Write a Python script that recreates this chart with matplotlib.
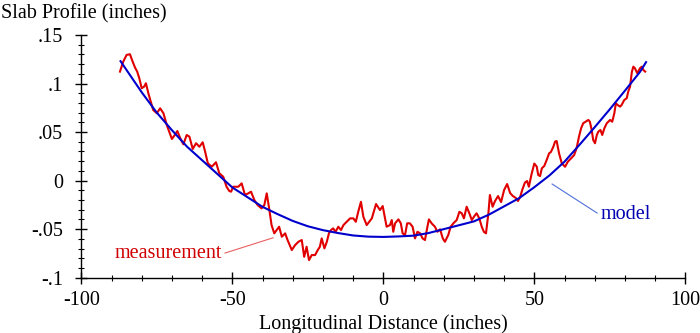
import numpy as np
import matplotlib
matplotlib.use("Agg")
from matplotlib import pyplot as plt
from matplotlib.ticker import MultipleLocator

# measured slab profile (inches)
meas_x = [-87.2, -86.1, -85.0, -83.9, -83.0, -82.2, -81.5, -80.8, -80.0, -79.2,
          -78.6, -77.8, -77.0, -76.2, -75.0, -73.9, -72.8, -71.7, -70.9, -70.0,
          -69.2, -68.2, -67.3, -66.2, -65.1, -64.2, -63.1, -62.0, -60.9, -59.8,
          -59.0, -58.1, -56.8, -55.4, -54.3, -53.0, -51.9, -51.0, -50.4, -49.7,
          -48.0, -46.9, -45.8, -44.7, -43.8, -42.7, -41.6, -40.3, -39.4, -38.6,
          -37.8, -37.0, -36.1, -35.3, -34.5, -33.6, -32.5, -31.7, -30.3, -29.2,
          -28.1, -27.0, -26.2, -25.4, -24.6, -23.7, -22.6, -21.7, -21.0, -20.4,
          -19.5, -18.7, -18.0, -17.3, -16.6, -15.8, -14.9, -14.0, -13.2, -12.1,
          -11.0, -9.9, -9.1, -8.3, -7.4, -6.6, -5.5, -3.8, -2.4, -1.1,
          -0.2, 1.1, 2.2, 2.8, 3.3, 3.9, 5.0, 5.8, 6.4, 7.2,
          7.9, 8.8, 9.7, 10.5, 11.3, 12.2, 13.0, 13.8, 14.4, 15.1,
          16.0, 17.1, 17.9, 18.8, 19.7, 20.4, 21.5, 22.3, 23.2, 24.3,
          25.2, 26.0, 26.7, 27.6, 28.5, 29.3, 30.4, 30.9, 31.8, 32.6,
          33.3, 34.0, 34.8, 35.3, 36.2, 37.0, 38.0, 39.0, 40.0, 41.0,
          42.0, 42.9, 43.9, 44.6, 45.3, 46.1, 46.9, 47.6, 48.2, 49.1,
          50.0, 50.8, 51.3, 51.9, 52.5, 53.3, 54.1, 54.9, 55.5, 56.3,
          56.9, 57.4, 58.2, 59.1, 60.2, 61.1, 62.2, 63.2, 64.0, 64.8,
          65.5, 66.2, 67.0, 67.9, 68.4, 69.0, 69.5, 70.1, 70.7, 71.2,
          71.9, 72.5, 73.2, 74.0, 74.5, 75.1, 75.8, 76.5, 77.0, 77.6,
          78.4, 78.9, 79.8, 80.6, 81.1, 81.7, 82.3, 82.8, 83.3, 84.1,
          85.0, 85.6, 86.1, 86.7]
meas_y = [0.1123, 0.1226, 0.1295, 0.1302, 0.1226, 0.1164, 0.1123, 0.1055, 0.0952, 0.0968,
          0.1003, 0.0900, 0.0813, 0.0728, 0.0694, 0.0745, 0.0694, 0.0573, 0.0504, 0.0429,
          0.0463, 0.0511, 0.0442, 0.0374, 0.0470, 0.0453, 0.0326, 0.0385, 0.0349, 0.0395,
          0.0298, 0.0178, 0.0143, 0.0189, 0.0075, 0.0040, -0.0063, -0.0107, -0.0114, -0.0063,
          -0.0063, -0.0028, -0.0148, -0.0131, -0.0114, -0.0200, -0.0252, -0.0286, -0.0252, -0.0131,
          -0.0286, -0.0458, -0.0543, -0.0509, -0.0475, -0.0578, -0.0543, -0.0612, -0.0715, -0.0664,
          -0.0630, -0.0612, -0.0785, -0.0681, -0.0819, -0.0767, -0.0767, -0.0715, -0.0681, -0.0595,
          -0.0698, -0.0630, -0.0543, -0.0509, -0.0492, -0.0527, -0.0475, -0.0509, -0.0458, -0.0424,
          -0.0389, -0.0389, -0.0424, -0.0321, -0.0218, -0.0372, -0.0458, -0.0389, -0.0241, -0.0303,
          -0.0262, -0.0475, -0.0458, -0.0406, -0.0527, -0.0440, -0.0399, -0.0440, -0.0543, -0.0561,
          -0.0440, -0.0440, -0.0475, -0.0595, -0.0527, -0.0543, -0.0595, -0.0612, -0.0509, -0.0399,
          -0.0440, -0.0475, -0.0527, -0.0502, -0.0595, -0.0630, -0.0561, -0.0475, -0.0440, -0.0406,
          -0.0321, -0.0337, -0.0389, -0.0269, -0.0337, -0.0406, -0.0355, -0.0337, -0.0389, -0.0475,
          -0.0527, -0.0543, -0.0337, -0.0148, -0.0269, -0.0210, -0.0159, -0.0221, -0.0097, -0.0035,
          -0.0128, -0.0159, -0.0179, -0.0210, -0.0169, -0.0087, -0.0020, -0.0004, -0.0063, 0.0068,
          0.0176, 0.0145, 0.0058, 0.0047, 0.0127, 0.0151, 0.0212, 0.0281, 0.0295, 0.0349,
          0.0403, 0.0408, 0.0281, 0.0178, 0.0143, 0.0195, 0.0230, 0.0264, 0.0333, 0.0453,
          0.0539, 0.0591, 0.0607, 0.0625, 0.0607, 0.0522, 0.0419, 0.0385, 0.0470, 0.0504,
          0.0522, 0.0470, 0.0539, 0.0591, 0.0607, 0.0625, 0.0607, 0.0694, 0.0797, 0.0779,
          0.0762, 0.0779, 0.0831, 0.0848, 0.0916, 0.0968, 0.1120, 0.1174, 0.1158, 0.1106,
          0.1158, 0.1174, 0.1140, 0.1123]

# fitted model curve
model_x = [-87, -80, -75, -70, -65, -60, -55, -50, -45, -40, -35, -30, -25, -20,
           -15, -10, -5, 0, 5, 10, 15, 20, 25, 30, 35, 40, 45, 50, 55, 60,
           65, 70, 75, 80, 85, 87]
model_y = [0.123, 0.091, 0.070, 0.052, 0.035, 0.021, 0.007, -0.007, -0.017, -0.027,
           -0.0345, -0.0415, -0.047, -0.051, -0.054, -0.0565, -0.0577, -0.058, -0.0575, -0.0567,
           -0.054, -0.050, -0.046, -0.042, -0.035, -0.0265, -0.018, -0.0068, 0.0053, 0.0195,
           0.037, 0.055, 0.0735, 0.0926, 0.112, 0.122]

xticks = [-100, -50, 0, 50, 100]
xtick_labels = ["-100", "-50", "0", "50", "100"]
yticks = [-0.1, -0.05, 0, 0.05, 0.1, 0.15]
ytick_labels = ["-.1", "-.05", "0", ".05", ".1", ".15"]

plt.rcParams['font.family'] = ['Liberation Serif', 'DejaVu Serif']
fs = 14.5

fig = plt.figure(figsize=(7, 3.33), dpi=100)
ax = fig.add_axes([81.3 / 700, 1 - 277.7 / 333, 604 / 700, 242.7 / 333])

ax.plot(meas_x, meas_y, color='#e00000', lw=1.5, zorder=3)
ax.plot(model_x, model_y, color='#0000cc', lw=1.5, zorder=4)

# callout labels
ax.plot([-52.4, -36.5], [-0.0746, -0.0589], color='#e86060', lw=0.8)
ax.text(-53.6, -0.0746, "measurement", color='#d00000', fontsize=fs,
        ha='right', va='center')
ax.plot([55.9, 70.8], [-0.0035, -0.0334], color='#5070d8', lw=0.8)
ax.text(72.0, -0.0344, "model", color='#0000b0', fontsize=fs,
        ha='left', va='center')

ax.set_xlim(-100, 100)
ax.set_ylim(-0.1, 0.15)
ax.set_xticks(xticks)
ax.set_xticklabels(xtick_labels)
ax.set_yticks(yticks)
ax.set_yticklabels(ytick_labels)
ax.xaxis.set_minor_locator(MultipleLocator(10))
ax.yaxis.set_minor_locator(MultipleLocator(0.01))
ax.tick_params(which='major', direction='inout', length=8, width=1, labelsize=fs)
ax.tick_params(which='minor', direction='inout', length=4, width=0.8)
ax.tick_params(axis='x', which='major', pad=5.5)
ax.tick_params(axis='y', which='major', pad=9)

for s in ['top', 'right']:
    ax.spines[s].set_visible(False)
for s in ['left', 'bottom']:
    ax.spines[s].set_linewidth(1)

ax.set_xlabel("Longitudinal Distance (inches)", fontsize=fs, labelpad=3.5)
fig.text(1 / 700, 1 - 14 / 333, "Slab Profile (inches)", fontsize=fs,
         ha='left', va='center')

fig.savefig("out.png", dpi=100)
